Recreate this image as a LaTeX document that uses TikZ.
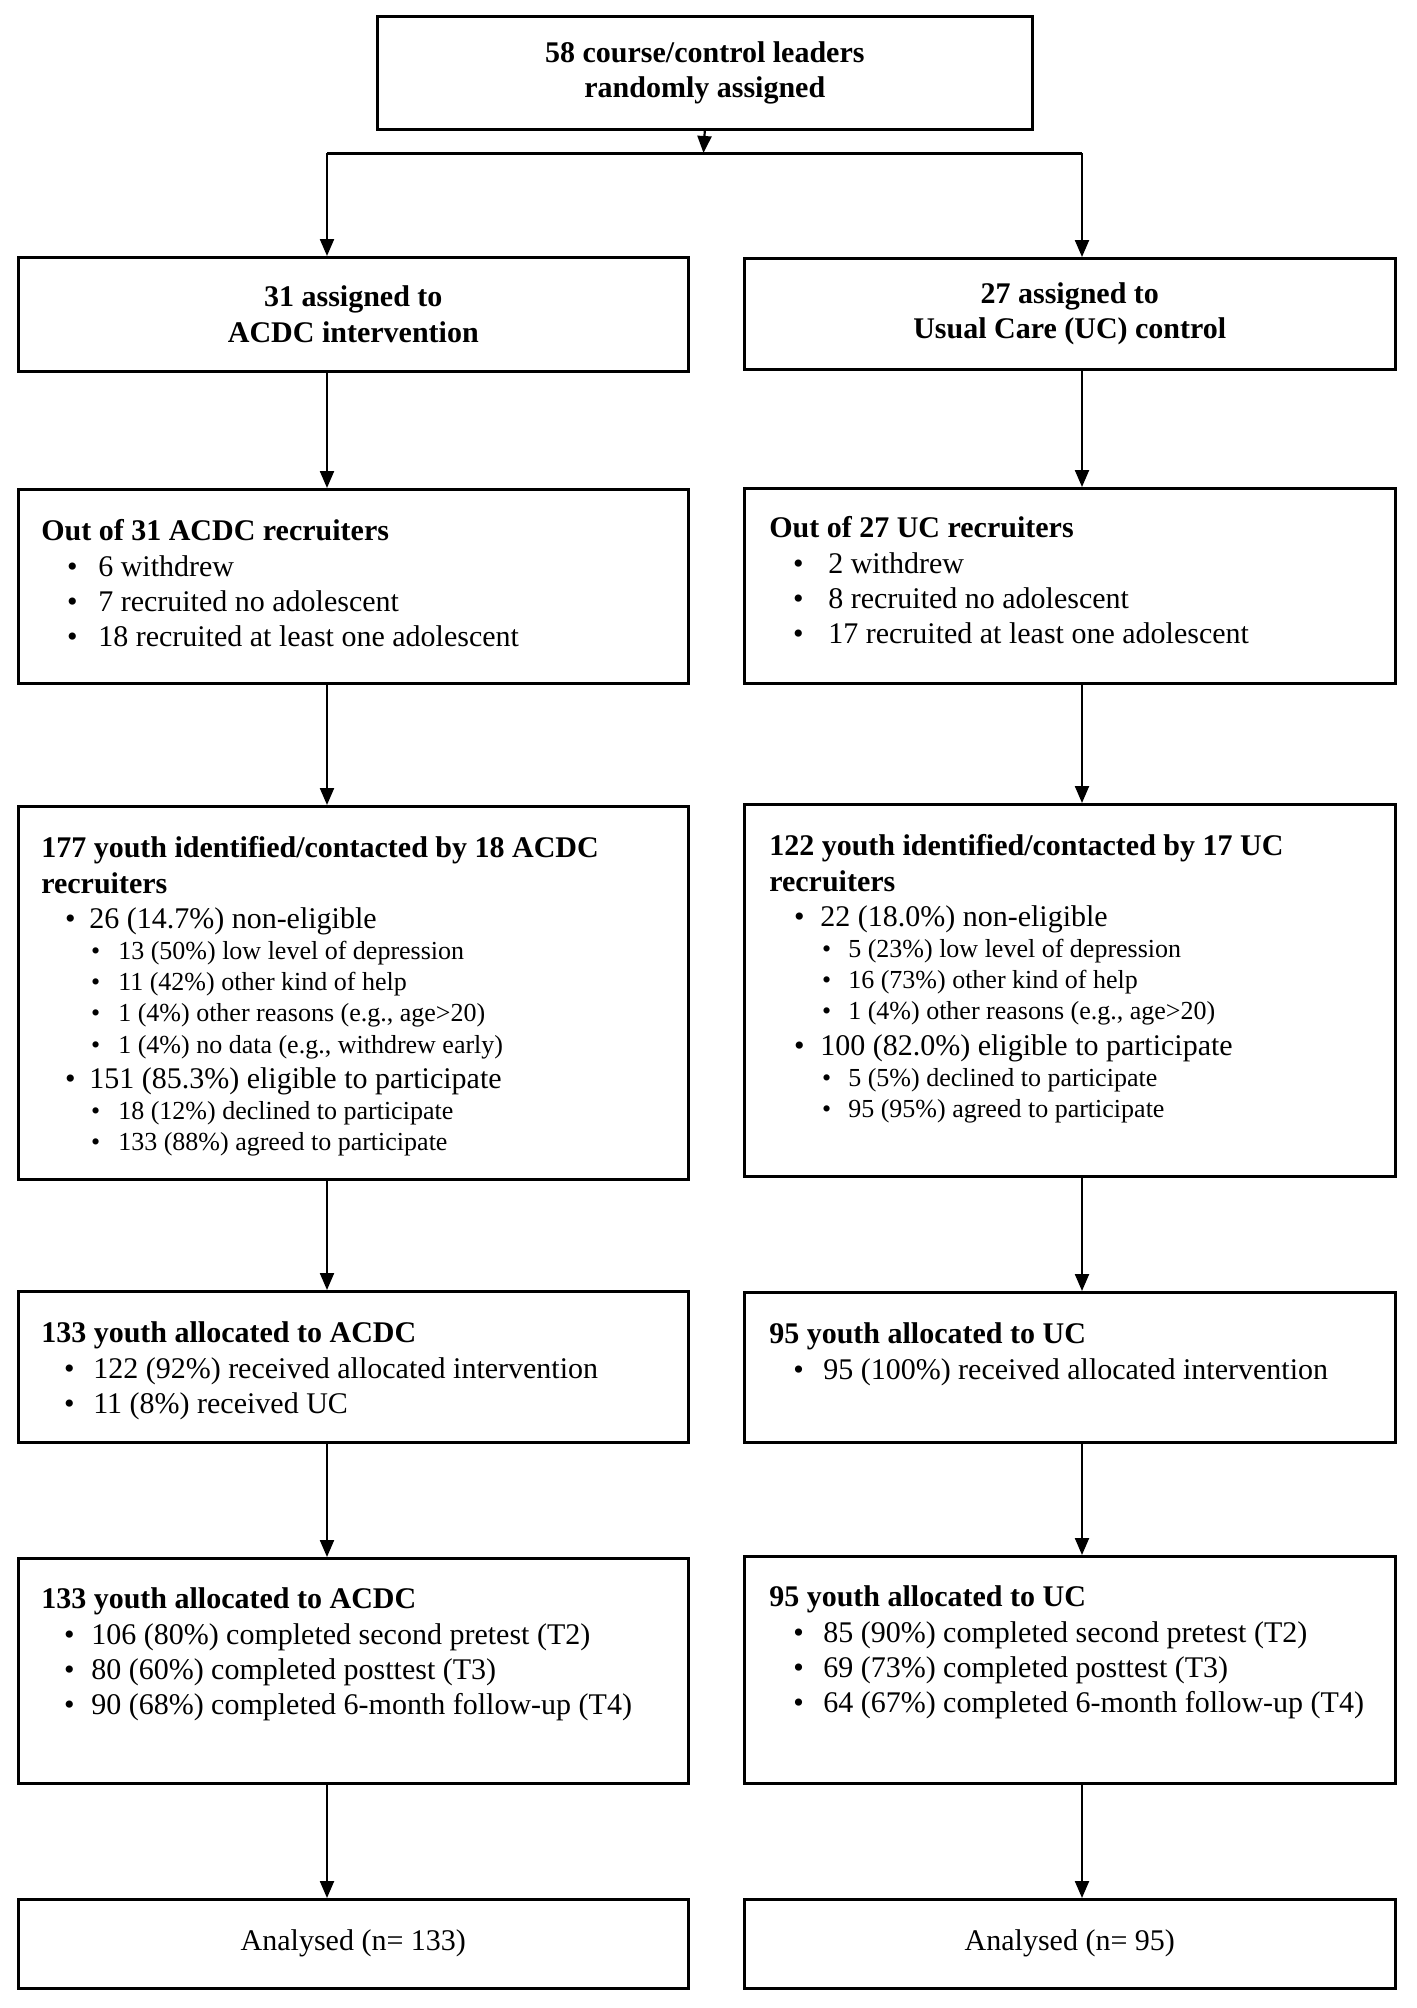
\documentclass[tikz,border=0pt]{standalone}
\usepackage{fontspec}
\setmainfont{Liberation Serif}
\usetikzlibrary{arrows.meta}

\newcommand{\hd}[1]{\strut\textbf{#1}\par}
\newcommand{\itm}[3]{\hspace*{#1}\makebox[#2][l]{\textbullet}#3\par}
\newcommand{\subitm}[3]{{\fontsize{13}{15.6}\selectfont\hspace*{#1}\makebox[#2][l]{\textbullet}#3\par}}

\begin{document}
\begin{tikzpicture}[x=0.5pt,y=-0.5pt,
  box/.style={draw,line width=1.3pt,inner sep=0pt,anchor=north west},
  title/.style={box,align=center,font=\fontsize{15}{17.6}\selectfont\bfseries},
  arr/.style={line width=1.1pt,-{Triangle[length=8.5pt,width=7pt]}},
  font=\fontsize{15}{17.6}\selectfont]
  \useasboundingbox (0,0) rectangle (1417,2008);

  % top and the two arms
  \node[title,minimum width=327.5pt,minimum height=56.5pt] (leaders) at (376,15) {58 course/control leaders\\randomly assigned};
  \node[title,minimum width=335pt,minimum height=57pt] (acdc) at (17,256) {31 assigned to\\ACDC intervention};
  \node[title,minimum width=325.5pt,minimum height=55.5pt] (uc) at (743,257) {27 assigned to\\Usual Care (UC) control};

  \coordinate (split) at (703.5,153);
  \coordinate (splitL) at (327,153);
  \coordinate (splitR) at (1082,153);
  \draw[arr] (leaders.south) -- (split);
  \draw[line width=1.5pt] (splitL) -- (splitR);
  \draw[arr] (splitL) -- (acdc.north -| splitL);
  \draw[arr] (splitR) -- (uc.north -| splitR);

  % recruiters
  \node[box,minimum width=335pt,minimum height=97pt] (acdcRec) at (17,488) {\parbox[c][97pt][t]{312pt}{\vspace*{13.5pt}%
    \hd{Out of 31 ACDC recruiters}
    \itm{12.9pt}{15.6pt}{6 withdrew}
    \itm{12.9pt}{15.6pt}{7 recruited no adolescent}
    \itm{12.9pt}{15.6pt}{18 recruited at least one adolescent}}};
  \node[box,minimum width=325.5pt,minimum height=97.5pt] (ucRec) at (743,487) {\parbox[c][97.5pt][t]{300.5pt}{\vspace*{12.5pt}%
    \hd{Out of 27 UC recruiters}
    \itm{11.9pt}{17.6pt}{2 withdrew}
    \itm{11.9pt}{17.6pt}{8 recruited no adolescent}
    \itm{11.9pt}{17.6pt}{17 recruited at least one adolescent}}};

  % youth contacted
  \node[box,minimum width=335pt,minimum height=186.5pt] (acdcYouth) at (17,805) {\parbox[c][186.5pt][t]{312pt}{\vspace*{13.5pt}%
    \hd{177 youth identified/contacted by 18 ACDC\\recruiters}
    \itm{11.9pt}{12.1pt}{26 (14.7\%) non-eligible}
    \subitm{24.9pt}{13.6pt}{13 (50\%) low level of depression}
    \subitm{24.9pt}{13.6pt}{11 (42\%) other kind of help}
    \subitm{24.9pt}{13.6pt}{1 (4\%) other reasons (e.g., age>20)}
    \subitm{24.9pt}{13.6pt}{1 (4\%) no data (e.g., withdrew early)}
    \itm{11.9pt}{12.1pt}{151 (85.3\%) eligible to participate}
    \subitm{24.9pt}{13.6pt}{18 (12\%) declined to participate}
    \subitm{24.9pt}{13.6pt}{133 (88\%) agreed to participate}}};
  \node[box,minimum width=325.5pt,minimum height=186pt] (ucYouth) at (743,803) {\parbox[c][186pt][t]{300.5pt}{\vspace*{13.5pt}%
    \hd{122 youth identified/contacted by 17 UC\\recruiters}
    \itm{12.4pt}{13.1pt}{22 (18.0\%) non-eligible}
    \subitm{26.4pt}{13.1pt}{5 (23\%) low level of depression}
    \subitm{26.4pt}{13.1pt}{16 (73\%) other kind of help}
    \subitm{26.4pt}{13.1pt}{1 (4\%) other reasons (e.g., age>20)}
    \itm{12.4pt}{13.1pt}{100 (82.0\%) eligible to participate}
    \subitm{26.4pt}{13.1pt}{5 (5\%) declined to participate}
    \subitm{26.4pt}{13.1pt}{95 (95\%) agreed to participate}}};

  % allocation
  \node[box,minimum width=335pt,minimum height=75.5pt] (acdcAlloc) at (17,1290) {\parbox[c][75.5pt][t]{312pt}{\vspace*{13.5pt}%
    \hd{133 youth allocated to ACDC}
    \itm{11.4pt}{14.6pt}{122 (92\%) received allocated intervention}
    \itm{11.4pt}{14.6pt}{11 (8\%) received UC}}};
  \node[box,minimum width=325.5pt,minimum height=75pt] (ucAlloc) at (743,1291) {\parbox[c][75pt][t]{300.5pt}{\vspace*{13.5pt}%
    \hd{95 youth allocated to UC}
    \itm{12pt}{15pt}{95 (100\%) received allocated intervention}}};

  % follow-up
  \node[box,minimum width=335pt,minimum height=112.5pt] (acdcFollow) at (17,1557) {\parbox[c][112.5pt][t]{312pt}{\vspace*{13pt}%
    \hd{133 youth allocated to ACDC}
    \itm{11.4pt}{13.6pt}{106 (80\%) completed second pretest (T2)}
    \itm{11.4pt}{13.6pt}{80 (60\%) completed posttest (T3)}
    \itm{11.4pt}{13.6pt}{90 (68\%) completed 6-month follow-up (T4)}}};
  \node[box,minimum width=325.5pt,minimum height=113.5pt] (ucFollow) at (743,1555) {\parbox[c][113.5pt][t]{300.5pt}{\vspace*{13pt}%
    \hd{95 youth allocated to UC}
    \itm{12pt}{15pt}{85 (90\%) completed second pretest (T2)}
    \itm{12pt}{15pt}{69 (73\%) completed posttest (T3)}
    \itm{12pt}{15pt}{64 (67\%) completed 6-month follow-up (T4)}}};

  % analysed
  \node[box,minimum width=335pt,minimum height=44.5pt] (acdcAn) at (17,1898) {Analysed (n= 133)};
  \node[box,minimum width=325.5pt,minimum height=44.5pt] (ucAn) at (743,1898) {Analysed (n= 95)};

  \draw[arr] (acdc.south -| splitL) -- (acdcRec.north -| splitL);
  \draw[arr] (acdcRec.south -| splitL) -- (acdcYouth.north -| splitL);
  \draw[arr] (acdcYouth.south -| splitL) -- (acdcAlloc.north -| splitL);
  \draw[arr] (acdcAlloc.south -| splitL) -- (acdcFollow.north -| splitL);
  \draw[arr] (acdcFollow.south -| splitL) -- (acdcAn.north -| splitL);

  \draw[arr] (uc.south -| splitR) -- (ucRec.north -| splitR);
  \draw[arr] (ucRec.south -| splitR) -- (ucYouth.north -| splitR);
  \draw[arr] (ucYouth.south -| splitR) -- (ucAlloc.north -| splitR);
  \draw[arr] (ucAlloc.south -| splitR) -- (ucFollow.north -| splitR);
  \draw[arr] (ucFollow.south -| splitR) -- (ucAn.north -| splitR);
\end{tikzpicture}
\end{document}
